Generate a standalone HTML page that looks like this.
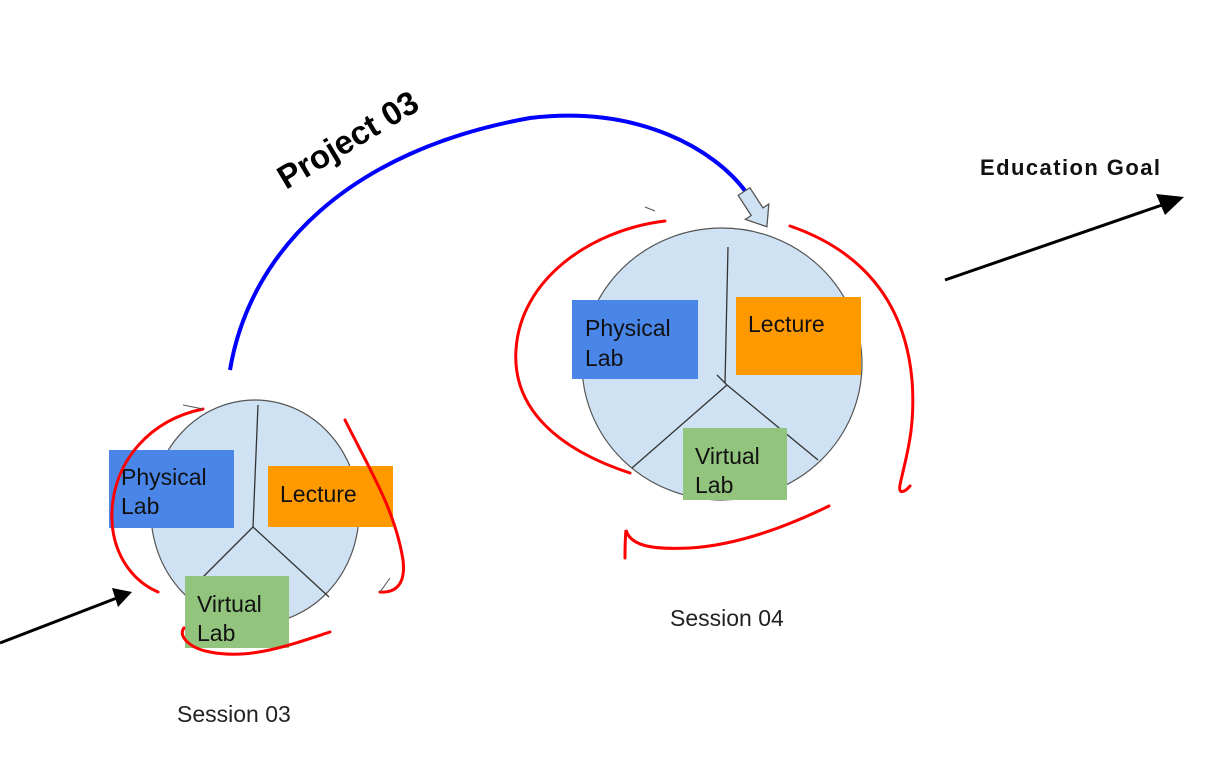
<!DOCTYPE html>
<html><head><meta charset="utf-8"><style>
html,body{margin:0;padding:0;background:#fff;}
svg{display:block;font-family:"Liberation Sans",Arial,sans-serif;}
</style></head><body>
<svg width="1218" height="764" viewBox="0 0 1218 764" xmlns="http://www.w3.org/2000/svg">
<rect width="1218" height="764" fill="#fff"/>

<!-- blue arc -->
<path d="M230,370 C250,250 350,150 530,118 C640,105 715,150 746,192" fill="none" stroke="#0000ff" stroke-width="4"/>
<g transform="translate(756,210) rotate(-33)">
<polygon points="-7,-22 7,-22 7,2 14,2 0,20 -14,2 -7,2" fill="#cfe2f3" stroke="#555" stroke-width="1.3"/>
</g>
<text x="0" y="0" font-size="33" font-weight="bold" fill="#000" transform="translate(286,190) rotate(-31)">Project 03</text>

<!-- black arrows -->
<line x1="0" y1="643" x2="122" y2="596" stroke="#000" stroke-width="3"/>
<polygon points="132,592 112,588 118,607" fill="#000"/>
<line x1="945" y1="280" x2="1165" y2="204" stroke="#000" stroke-width="3"/>
<polygon points="1184,197 1156,194 1165,215" fill="#000"/>
<text x="980" y="175" font-size="22" font-weight="bold" fill="#111" textLength="180">Education Goal</text>

<!-- Session 03 -->
<ellipse cx="255" cy="512" rx="104" ry="112" fill="#cfe2f3" stroke="#555" stroke-width="1.2"/>
<line x1="258" y1="405" x2="253" y2="527" stroke="#333" stroke-width="1.3"/>
<line x1="253" y1="527" x2="203" y2="577" stroke="#333" stroke-width="1.3"/>
<line x1="253" y1="527" x2="329" y2="597" stroke="#333" stroke-width="1.3"/>
<rect x="109" y="450" width="125" height="78" fill="#4a86e8"/>
<text x="121" y="485" font-size="23" fill="#111">Physical</text>
<text x="121" y="514" font-size="23" fill="#111">Lab</text>
<rect x="268" y="466" width="125" height="61" fill="#ff9900"/>
<text x="280" y="502" font-size="23" fill="#111">Lecture</text>
<rect x="185" y="576" width="104" height="72" fill="#93c47d"/>
<text x="197" y="612" font-size="23" fill="#111">Virtual</text>
<text x="197" y="641" font-size="23" fill="#111">Lab</text>
<g fill="none" stroke="#ff0000" stroke-width="3" stroke-linecap="round">
<path d="M203,409 C150,420 115,460 112,510 C110,550 130,580 158,592"/>
<path d="M345,420 C370,470 395,510 403,560 C406,585 395,593 380,592"/>
<path d="M330,632 C290,645 250,660 210,652 C188,648 178,635 184,628"/>
</g>
<path d="M183,405 L203,409" fill="none" stroke="#555" stroke-width="1"/>
<path d="M390,578 L380,592" fill="none" stroke="#555" stroke-width="1"/>
<text x="177" y="722" font-size="23" fill="#222">Session 03</text>

<!-- Session 04 -->
<ellipse cx="722" cy="364" rx="140" ry="136" fill="#cfe2f3" stroke="#555" stroke-width="1.2"/>
<line x1="728" y1="247" x2="725" y2="383" stroke="#333" stroke-width="1.3"/>
<line x1="717" y1="375" x2="727" y2="385" stroke="#333" stroke-width="1.3"/>
<line x1="727" y1="385" x2="632" y2="468" stroke="#333" stroke-width="1.3"/>
<line x1="727" y1="385" x2="818" y2="460" stroke="#333" stroke-width="1.3"/>
<rect x="572" y="300" width="126" height="79" fill="#4a86e8"/>
<text x="585" y="336" font-size="23" fill="#111">Physical</text>
<text x="585" y="366" font-size="23" fill="#111">Lab</text>
<rect x="736" y="297" width="125" height="78" fill="#ff9900"/>
<text x="748" y="332" font-size="23" fill="#111">Lecture</text>
<rect x="683" y="428" width="104" height="72" fill="#93c47d"/>
<text x="695" y="464" font-size="23" fill="#111">Virtual</text>
<text x="695" y="493" font-size="23" fill="#111">Lab</text>
<g fill="none" stroke="#ff0000" stroke-width="3" stroke-linecap="round">
<path d="M665,221 C590,230 520,280 516,350 C512,410 560,450 630,473"/>
<path d="M790,226 C860,250 905,300 912,380 C916,430 905,460 900,485 C898,495 905,492 910,486"/>
<path d="M829,506 C790,525 740,545 690,548 C650,550 630,545 626,530 C625,540 625,550 625,558"/>
</g>
<path d="M645,207 L655,211" stroke="#555" stroke-width="1"/>
<text x="670" y="626" font-size="23" fill="#222">Session 04</text>
</svg>
</body></html>
